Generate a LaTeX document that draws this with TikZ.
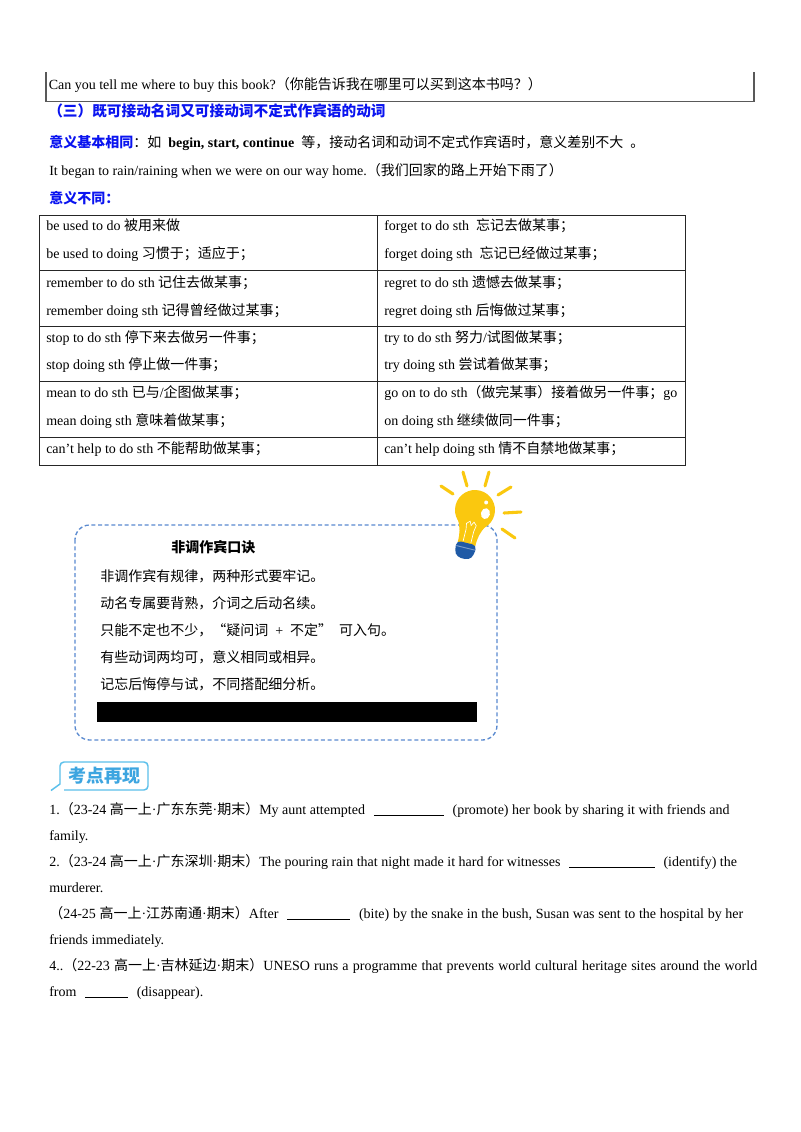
\documentclass[tikz,border=0pt]{standalone}
\usepackage{fontspec}
\setmainfont{Liberation Serif}
\newfontfamily\cjk{Noto Sans CJK SC}
\XeTeXinterchartokenstate=1
\newXeTeXintercharclass\cjkcls
\newcount\cjkcnt
\def\setcjkrange#1#2{\cjkcnt=#1 \loop\XeTeXcharclass\cjkcnt=\cjkcls\relax\ifnum\cjkcnt<#2 \advance\cjkcnt by 1 \repeat}
\setcjkrange{"3000}{"303F}
\setcjkrange{"4E00}{"9FFF}
\setcjkrange{"FF00}{"FFEF}
\XeTeXcharclass"201C=\cjkcls
\XeTeXcharclass"201D=\cjkcls
\XeTeXinterchartoks 0 \cjkcls = {\begingroup\cjk}
\XeTeXinterchartoks 4095 \cjkcls = {\begingroup\cjk}
\XeTeXinterchartoks \cjkcls 0 = {\endgroup}
\XeTeXinterchartoks \cjkcls 4095 = {\endgroup}
\definecolor{hblue}{HTML}{0A14F0}
\definecolor{dashblue}{HTML}{5A8AD0}
\definecolor{bulbyellow}{HTML}{FAC80F}
\definecolor{basblue}{HTML}{1F5AA6}
\definecolor{badgeblue}{HTML}{5BC0EB}
\definecolor{badgetext}{HTML}{3DA5E0}
\newcommand{\blankline}[1]{\hspace{4pt}\rule[-1.5pt]{#1}{0.5pt}\hspace{4pt}}
\begin{document}
\begin{tikzpicture}[x=0.75pt,y=-0.75pt,
  txt/.style={anchor=base west,inner sep=0pt,font=\fontsize{10.5}{12}\selectfont},
  hd/.style={anchor=base west,inner sep=0pt,text=hblue,font=\fontsize{10.5}{12}\selectfont\bfseries},
  tline/.style={draw=black!85,line width=0.6pt},
  ray/.style={draw=bulbyellow,line width=2.3pt,line cap=round}]
\useasboundingbox (0,0) rectangle (800,1132);
\fill[white] (0,0) rectangle (800,1132);

% top box (continued from previous page)
\draw[black!65,line width=0.8pt] (46,72) -- (46,101.5) -- (754,101.5) -- (754,72);
\node[txt] (t0) at (48.5,89) {Can you tell me where to buy this book?（你能告诉我在哪里可以买到这本书吗？）};

\node[hd,font=\fontsize{11}{13}\selectfont\bfseries] (h1) at (48,116) {（三）既可接动名词又可接动词不定式作宾语的动词};
\node[txt] (l1) at (49,147) {{\color{hblue}\bfseries 意义基本相同}：如\enspace\textbf{begin, start, continue}\enspace{}等，接动名词和动词不定式作宾语时，意义差别不大\enspace{}。};
\node[txt] (l2) at (49,175) {It began to rain/raining when we were on our way home.（我们回家的路上开始下雨了）};
\node[hd] (h2) at (49,203) {意义不同：};

% table
\draw[tline] (39,215.5) rectangle (685,465.5);
\draw[tline] (377,215.5) -- (377,465.5);
\foreach \yy in {270.5,326,381.5,437} \draw[tline] (39,\yy) -- (685,\yy);

\node[txt] (a1) at (46,230) {be used to do 被用来做};
\node[txt] (a2) at (46,258) {be used to doing 习惯于；适应于；};
\node[txt] (a3) at (46,287) {remember to do sth 记住去做某事；};
\node[txt] (a4) at (46,315) {remember doing sth 记得曾经做过某事；};
\node[txt] (a5) at (46,342) {stop to do sth 停下来去做另一件事；};
\node[txt] (a6) at (46,369) {stop doing sth 停止做一件事；};
\node[txt] (a7) at (46,397) {mean to do sth 已与/企图做某事；};
\node[txt] (a8) at (46,425) {mean doing sth 意味着做某事；};
\node[txt] (a9) at (46,453) {can’t help to do sth 不能帮助做某事；};

\node[txt] (b1) at (384,230) {forget to do sth\enspace{}忘记去做某事；};
\node[txt] (b2) at (384,258) {forget doing sth\enspace{}忘记已经做过某事；};
\node[txt] (b3) at (384,287) {regret to do sth 遗憾去做某事；};
\node[txt] (b4) at (384,315) {regret doing sth 后悔做过某事；};
\node[txt] (b5) at (384,342) {try to do sth 努力/试图做某事；};
\node[txt] (b6) at (384,369) {try doing sth 尝试着做某事；};
\node[txt] (b7) at (384,397) {go on to do sth（做完某事）接着做另一件事；go};
\node[txt] (b8) at (384,425) {on doing sth 继续做同一件事；};
\node[txt] (b9) at (384,453) {can’t help doing sth 情不自禁地做某事；};

% callout box
\draw[dashblue,line width=1pt,dash pattern=on 3pt off 2pt,rounded corners=11pt] (75,525) rectangle (497,740);
\node[txt,font=\fontsize{10.5}{12}\selectfont\bfseries] (ct) at (171,552) {非调作宾口诀};
\node[txt] (c1) at (100,581) {非调作宾有规律，两种形式要牢记。};
\node[txt] (c2) at (100,608) {动名专属要背熟，介词之后动名续。};
\node[txt] (c3) at (100,635) {只能不定也不少，“疑问词\enspace{}+\enspace{}不定”\enspace{}可入句。};
\node[txt] (c4) at (100,662) {有些动词两均可，意义相同或相异。};
\node[txt] (c5) at (100,689) {记忘后悔停与试，不同搭配细分析。};
\fill[black] (97,701.5) rectangle (477,722);

% light bulb
\draw[ray] (463,472) -- (467,486);
\draw[ray] (489,472) -- (485,486);
\draw[ray] (441,486) -- (453,494);
\draw[ray] (498,495) -- (511,487);
\draw[ray] (504,513) -- (521,512);
\draw[ray] (502,529) -- (515,538);
\begin{scope}[shift={(475,510)},rotate=-14]
  \fill[bulbyellow] (0,0) circle (20);
  \fill[bulbyellow] (-14.5,13) .. controls (-10,21) and (-9,26) .. (-9,35) -- (9,35) .. controls (9,26) and (10,21) .. (14.5,13) -- cycle;
  \fill[basblue,rounded corners=3pt] (-10,34) -- (10,34) -- (10,44) -- (6,50) -- (-6,50) -- (-10,44) -- cycle;
  \draw[basblue!60!white,line width=0.7pt] (-9.5,39) -- (9.5,39);
  \draw[white,line width=0.5pt] (-4,33) -- (-4,21) -- (-5,15) -- (-2,12) -- (0,16) -- (2,12) -- (5,15) -- (4,21) -- (4,33);
  \fill[white] (11,1) ellipse (4.5 and 5.5);
  \fill[white] (9,-10) circle (2);
\end{scope}

% badge
\draw[badgeblue,line width=1.1pt,rounded corners=3pt] (60,779) -- (60,762) -- (148,762) -- (148,790) -- (64,790);
\draw[badgeblue,line width=1.1pt] (60,779) -- (60,784) -- (51,790.5);
\node[anchor=center,inner sep=0pt,text=badgetext,font=\fontsize{13.5}{15}\selectfont\bfseries] (bd) at (104,776) {考点再现};

% questions
\node[txt] (q1) at (49,814) {1.（23-24 高一上·广东东莞·期末）My aunt attempted \blankline{52.5pt} (promote) her book by sharing it with friends and};
\node[txt] (q1b) at (49,840) {family.};
\node[txt] (q2) at (49,866) {2.（23-24 高一上·广东深圳·期末）The pouring rain that night made it hard for witnesses \blankline{64pt} (identify) the};
\node[txt] (q2b) at (49,892) {murderer.};
\node[txt] (q3) at (49,918) {\hbox to 520.5pt{（24-25 高一上·江苏南通·期末）After \blankline{47pt} (bite) by the snake in the bush, Susan was sent to the hospital by her}};
\node[txt] (q3b) at (49,944) {friends immediately.};
\node[txt] (q4) at (49,970) {\hbox to 531pt{4..（22-23 高一上·吉林延边·期末）UNESO runs a programme that prevents world cultural heritage sites around the world}};
\node[txt] (q4b) at (49,996) {from \blankline{32pt} (disappear).};
\end{tikzpicture}
\end{document}
